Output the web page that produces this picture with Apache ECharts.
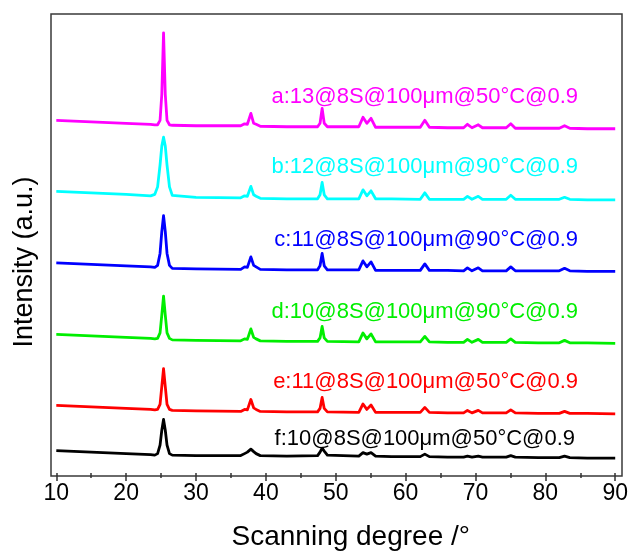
<!DOCTYPE html>
<html>
<head>
<meta charset="utf-8">
<script src="https://cdn.jsdelivr.net/npm/echarts@6/dist/echarts.min.js"></script>
<style>html,body{margin:0;padding:0;background:#fff}#c{width:631px;height:556px}</style>
</head>
<body>
<div id="c"></div>
<script>
// 2θ sample positions (degrees)
const twoTheta = [10, 15, 20, 23.5, 24.1, 24.5, 24.85, 25.1, 25.35, 25.6, 25.85, 26.2, 26.6, 30, 36.4, 36.95, 37.35, 37.85, 38.25, 38.6, 39.2, 43, 47.4, 47.75, 48.05, 48.35, 48.8, 53.3, 53.9, 54.45, 55.05, 55.7, 58, 62.1, 62.75, 63.4, 66, 68.3, 68.85, 69.5, 70.4, 71.0, 74.4, 75.05, 75.7, 79, 82.0, 82.75, 83.5, 86, 90];

// Intensities (a.u., stacked with offsets as drawn)
const intA = [355, 353.5, 352, 351, 350.5, 350.5, 355, 381, 443, 381, 355, 350.5, 350, 349.5, 349.5, 351.5, 351, 362, 352, 351, 349, 348.5, 348.5, 352, 367, 352, 348.5, 348.5, 358, 352, 357, 348, 348, 348, 355, 348, 347.5, 347.5, 351, 347.5, 350.5, 347.5, 347.5, 351.5, 347, 347, 347, 349.5, 347, 346.5, 346.5];
const intB = [283.5, 282, 280.5, 279, 280.5, 288, 310, 329, 338, 329, 310, 288, 279.5, 277.5, 277, 279, 278.5, 288.5, 280, 278.5, 276.5, 276, 276, 280, 292.5, 280, 276, 276, 285, 279, 284, 276, 276, 275.5, 282, 275.5, 275.5, 275.5, 278.5, 275.5, 278.5, 275.5, 275.5, 279.5, 275.5, 275.5, 275.5, 277.5, 275.5, 275, 275];
const intC = [211.5, 210, 208.5, 207.5, 207, 209, 221, 243, 259, 243, 221, 209, 206, 205.5, 205, 207.5, 207, 217.5, 209, 207.5, 205, 204.5, 204.5, 208.5, 221, 208.5, 204.5, 204.5, 213.5, 207.5, 212.5, 204, 204, 204, 210.5, 204, 204, 203.5, 206.5, 203.5, 206.5, 203.5, 203.5, 207.5, 203.5, 203.5, 203.5, 206, 203.5, 203, 203];
const intD = [139.5, 138, 136.5, 135.5, 135, 135.5, 141, 159, 178, 159, 141, 135.5, 134, 133.5, 133, 135, 134.5, 145, 136.5, 135, 133, 132.5, 132.5, 136, 147.5, 136, 132.5, 132, 141, 135, 140, 132, 132, 132, 137.5, 132, 131.5, 131.5, 134.5, 131.5, 134.5, 131.5, 131.5, 135, 131.5, 131, 131, 133.5, 131, 131, 130.5];
const intE = [68, 66.5, 65, 64, 63.5, 64, 69, 87, 105, 87, 69, 64, 63, 62.5, 62, 64, 63.5, 74, 65.5, 64, 62, 61.5, 61.5, 65, 76, 65, 61.5, 61, 69.5, 64, 68.5, 61, 61, 61, 66, 61, 60.5, 60.5, 63, 60.5, 63, 60.5, 60.5, 63.5, 60.5, 60, 60, 62, 60, 60, 59.5];
const intF = [22.5, 21, 19.5, 18.5, 18, 19.5, 28, 43, 54, 43, 28, 19.5, 18, 17.5, 17.5, 19.5, 21, 24, 21.5, 19.5, 17.5, 17, 17.5, 21, 25, 22, 18, 17, 20.5, 19, 20.5, 17, 16.5, 16.5, 19, 16.5, 16, 16, 17, 16, 17, 16, 16, 17.5, 16, 15.5, 15.5, 17, 15.5, 15, 15];

const seriesNames = ['a:13@8S@100μm@50°C@0.9', 'b:12@8S@100μm@90°C@0.9', 'c:11@8S@100μm@90°C@0.9', 'd:10@8S@100μm@90°C@0.9', 'e:11@8S@100μm@50°C@0.9', 'f:10@8S@100μm@50°C@0.9'];
const seriesColors = ['#ff00ff', '#00ffff', '#0000ff', '#00ee00', '#ff0000', '#000000'];
const xTitle = 'Scanning degree /°';
const yTitle = 'Intensity (a.u.)';

const allInt = [intA, intB, intC, intD, intE, intF];
const FONT = "'Liberation Sans', Arial, sans-serif";

const labelPos = [[578, 97], [578, 167], [578, 240], [578, 312], [578, 382], [575, 439]];

const chart = echarts.init(document.getElementById('c'), null, {renderer: 'canvas'});
chart.setOption({
  backgroundColor: '#fff',
  animation: false,
  grid: [
    {left: 51, right: 9, top: 14, bottom: 80, show: true, borderColor: '#3a3a3a', borderWidth: 1.5, backgroundColor: 'transparent'},
    {left: 56.3, right: 15.3, top: 14, bottom: 80}
  ],
  xAxis: [
    {gridIndex: 0, type: 'value', show: false, min: 0, max: 1},
    {gridIndex: 1, type: 'value', min: 10, max: 90, interval: 10,
     axisLine: {show: false},
     axisTick: {show: true, inside: false, length: 8, lineStyle: {color: '#333', width: 1.5}},
     minorTick: {show: true, splitNumber: 2, length: 5, lineStyle: {color: '#333', width: 1.5}},
     splitLine: {show: false},
     axisLabel: {color: '#000', fontSize: 23, fontFamily: FONT, margin: 9},
     name: xTitle, nameLocation: 'middle', nameGap: 50,
     nameTextStyle: {color: '#000', fontSize: 28, fontFamily: FONT, padding: [0, 0, 0, 30]}
    }
  ],
  yAxis: [
    {gridIndex: 0, type: 'value', show: false, min: 0, max: 1},
    {gridIndex: 1, type: 'value', show: false, min: 0, max: 462}
  ],
  series: allInt.map((arr, i) => ({
    type: 'line', xAxisIndex: 1, yAxisIndex: 1, name: seriesNames[i],
    data: twoTheta.map((x, k) => [x, arr[k]]),
    showSymbol: false, symbol: 'none',
    lineStyle: {color: seriesColors[i], width: 2.8, join: 'round'},
    z: 3
  })),
  graphic: [
    ...seriesNames.map((t, i) => ({
      type: 'text', x: labelPos[i][0], y: labelPos[i][1],
      style: {text: t, fill: seriesColors[i], font: '22px ' + FONT, textAlign: 'right', textVerticalAlign: 'middle'}
    })),
    {type: 'text', x: 25, y: 262, rotation: Math.PI / 2,
     style: {text: yTitle, fill: '#000', font: '27px ' + FONT, textAlign: 'center', textVerticalAlign: 'middle'}}
  ]
});
</script>
</body>
</html>
